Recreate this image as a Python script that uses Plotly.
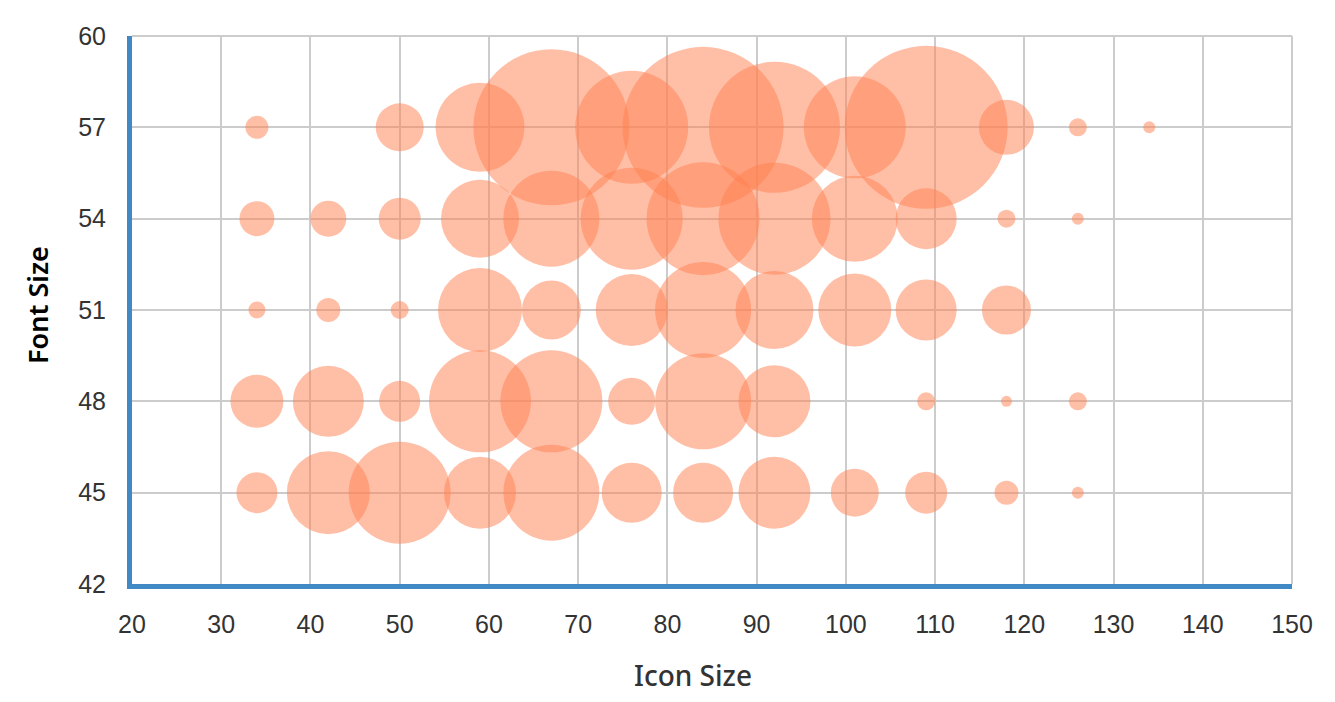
import plotly.graph_objects as go

# Icon sizes (x) for each font-size row, with the bubble size at each point
font_sizes = [57, 54, 51, 48, 45]

icon_57 = [34, 50, 59, 67, 76, 84, 92, 101, 109, 118, 126, 134]
size_57 = [23, 48, 89, 156, 113, 161, 131, 102, 163, 55, 18, 12]

icon_54 = [34, 42, 50, 59, 67, 76, 84, 92, 101, 109, 118, 126]
size_54 = [35, 36, 42, 78, 96, 102, 113, 112, 86, 61, 18, 12]

icon_51 = [34, 42, 50, 59, 67, 76, 84, 92, 101, 109, 118]
size_51 = [17, 24, 18, 84, 59, 72, 96, 78, 73, 61, 49]

icon_48 = [34, 42, 50, 59, 67, 76, 84, 92, 109, 118, 126]
size_48 = [53, 71, 41, 102, 102, 47, 96, 72, 18, 11, 18]

icon_45 = [34, 42, 50, 59, 67, 76, 84, 92, 101, 109, 118, 126]
size_45 = [41, 83, 102, 72, 96, 60, 60, 72, 48, 42, 24, 12]

rows = [
    (57, icon_57, size_57),
    (54, icon_54, size_54),
    (51, icon_51, size_51),
    (48, icon_48, size_48),
    (45, icon_45, size_45),
]

x_ticks = [20, 30, 40, 50, 60, 70, 80, 90, 100, 110, 120, 130, 140, 150]
y_ticks = [42, 45, 48, 51, 54, 57, 60]

fig = go.Figure()
for fs, icons, sizes in rows:
    fig.add_trace(go.Scatter(
        x=icons,
        y=[fs] * len(icons),
        mode="markers",
        marker=dict(
            size=sizes,
            sizemode="diameter",
            sizeref=1,
            color="#FF7F50",
            opacity=0.5,
            line=dict(width=0),
        ),
        hoverinfo="skip",
        showlegend=False,
    ))

fig.update_layout(
    width=1335,
    height=702,
    margin=dict(l=124, r=51, t=28, b=126),
    paper_bgcolor="white",
    plot_bgcolor="white",
    font=dict(family="Liberation Sans, Arial, sans-serif", size=25, color="#333333"),
    xaxis=dict(
        range=[20, 150],
        tickvals=x_ticks,
        ticktext=[str(v) for v in x_ticks],
        showgrid=True,
        gridcolor="#cccccc",
        gridwidth=2,
        zeroline=False,
        showline=True,
        linecolor="#4189c4",
        linewidth=5,
        ticks="",
        ticklabelstandoff=14,
        tickfont=dict(size=25, color="#333333"),
    ),
    yaxis=dict(
        range=[42, 60],
        tickvals=y_ticks,
        ticktext=[str(v) for v in y_ticks],
        showgrid=True,
        gridcolor="#cccccc",
        gridwidth=2,
        zeroline=False,
        showline=True,
        linecolor="#4189c4",
        linewidth=5,
        ticks="",
        ticklabelstandoff=16,
        tickfont=dict(size=25, color="#333333"),
    ),
    annotations=[
        dict(
            text="Icon Size",
            xref="paper", yref="paper",
            x=0.4836, y=-0.166,
            xanchor="center", yanchor="middle",
            showarrow=False,
            font=dict(family="Noto Sans, sans-serif", size=28, color="#333333", weight=500),
        ),
        dict(
            text="Font Size",
            xref="paper", yref="paper",
            x=-0.082, y=0.509,
            xanchor="center", yanchor="middle",
            textangle=-90,
            showarrow=False,
            font=dict(family="Noto Sans, sans-serif", size=27, color="#000000", weight=600),
        ),
    ],
)

# gray frame on the top and right edges
fig.add_shape(type="line", xref="paper", yref="paper", x0=0, x1=1, y0=1, y1=1,
              line=dict(color="#cccccc", width=2), layer="below")
fig.add_shape(type="line", xref="paper", yref="paper", x0=1, x1=1, y0=0, y1=1,
              line=dict(color="#cccccc", width=2), layer="below")

fig.write_html("out.html")
